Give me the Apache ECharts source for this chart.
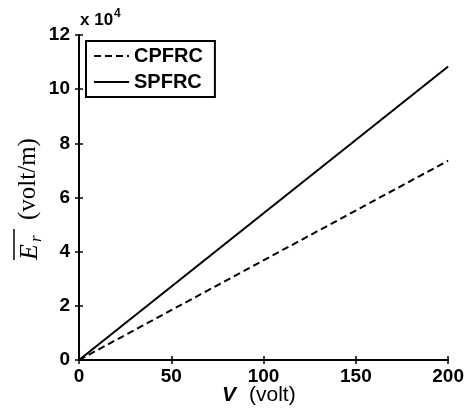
<!DOCTYPE html>
<html>
<head>
<meta charset="utf-8">
<script src="https://cdn.jsdelivr.net/npm/echarts@6/dist/echarts.min.js"></script>
<style>
  html, body { margin: 0; padding: 0; background: #fff; }
  #chart { width: 467px; height: 418px; }
</style>
</head>
<body>
<div id="chart"></div>
<script>
// values (V in volt, E_r in volt/m)
var voltage = [0, 200];
var cpfrc = [0, 73600];
var spfrc = [0, 108400];
var xTicks = [0, 50, 100, 150, 200];
var yTicks = [0, 2, 4, 6, 8, 10, 12]; // x 10^4

var SANS = '"Liberation Sans", Arial, sans-serif';
var SERIF = '"Liberation Serif", "Times New Roman", serif';

function pairs(ys) {
  return voltage.map(function (v, i) { return [v, ys[i]]; });
}

var axisLine = { show: true, lineStyle: { color: '#000', width: 2 } };
var tick = { show: true, inside: true, length: 4, lineStyle: { color: '#000', width: 1.5 } };

var chart = echarts.init(document.getElementById('chart'), null, { renderer: 'canvas' });
chart.setOption({
  animation: false,
  backgroundColor: '#fff',
  grid: { left: 79, right: 16, top: 35, bottom: 58, containLabel: false },
  xAxis: [{
    type: 'value', min: xTicks[0], max: xTicks[xTicks.length - 1], interval: 50,
    axisLine: axisLine, axisTick: tick, splitLine: { show: false },
    axisLabel: { color: '#000', fontFamily: SANS, fontWeight: 'bold', fontSize: 19, margin: 7 }
  }, {
    type: 'value', position: 'top', min: 0, max: 200, interval: 50,
    axisLine: axisLine, axisTick: tick, splitLine: { show: false }, axisLabel: { show: false }
  }],
  yAxis: [{
    type: 'value', min: 0, max: yTicks[yTicks.length - 1] * 1e4, interval: 2e4,
    axisLine: axisLine, axisTick: tick, splitLine: { show: false },
    axisLabel: {
      color: '#000', fontFamily: SANS, fontWeight: 'bold', fontSize: 19, margin: 9,
      formatter: function (v) { return String(v / 1e4); }
    }
  }, {
    type: 'value', position: 'right', min: 0, max: 120000, interval: 2e4,
    axisLine: axisLine, axisTick: tick, splitLine: { show: false }, axisLabel: { show: false }
  }],
  legend: {
    orient: 'vertical', left: 86, top: 41,
    padding: [5, 12, 5, 7], itemGap: 6, itemWidth: 35, itemHeight: 14,
    borderColor: '#000', borderWidth: 2, backgroundColor: '#fff',
    itemStyle: { opacity: 0 },
    textStyle: { color: '#000', fontFamily: SANS, fontWeight: 'bold', fontSize: 20 },
    data: ['CPFRC', 'SPFRC']
  },
  series: [{
    name: 'CPFRC', type: 'line', data: pairs(cpfrc), symbol: 'none',
    lineStyle: { color: '#000', width: 2, type: [7, 4] }, itemStyle: { color: '#000' }
  }, {
    name: 'SPFRC', type: 'line', data: pairs(spfrc), symbol: 'none',
    lineStyle: { color: '#000', width: 2 }, itemStyle: { color: '#000' }
  }],
  graphic: [
    // exponent above the y axis
    { type: 'text', left: 80, top: 12, style: { text: 'x 10', font: 'bold 17px ' + SANS, fill: '#000' } },
    { type: 'text', left: 114, top: 8, style: { text: '4', font: 'bold 12px ' + SANS, fill: '#000' } },
    // x axis title
    { type: 'text', left: 222, top: 385, style: { text: 'V', font: 'italic bold 21px ' + SANS, fill: '#000' } },
    { type: 'text', left: 249, top: 385, style: { text: '(volt)', font: '21px ' + SANS, fill: '#000' } },
    // y axis title, rotated
    {
      type: 'group', x: 29, y: 198, rotation: Math.PI / 2,
      children: [
        { type: 'text', style: { text: 'E', x: -62, y: 1, font: 'italic 26px ' + SERIF, fill: '#000', verticalAlign: 'middle' } },
        { type: 'text', style: { text: 'r', x: -44, y: 8, font: 'italic 17px ' + SERIF, fill: '#000', verticalAlign: 'middle' } },
        { type: 'line', shape: { x1: -62, y1: -15, x2: -31, y2: -15 }, style: { stroke: '#000', lineWidth: 1.5 } },
        { type: 'text', style: { text: '(volt/m)', x: -22, y: -1, font: '25px ' + SERIF, fill: '#000', verticalAlign: 'middle' } }
      ]
    }
  ]
});
</script>
</body>
</html>
